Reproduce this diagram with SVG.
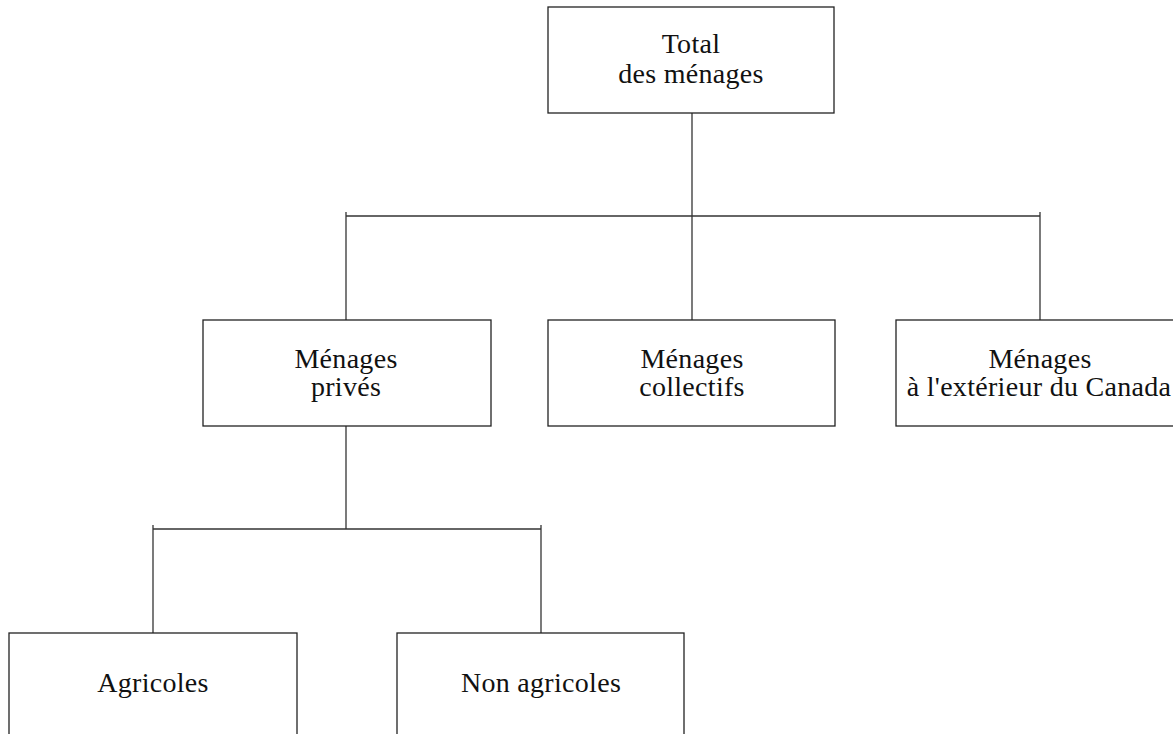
<svg xmlns="http://www.w3.org/2000/svg" width="1173" height="734" viewBox="0 0 1173 734">
<style>
.box{fill:#fff;stroke:#222;stroke-width:1.3}
.lbl{font-family:"Liberation Serif","Times New Roman",serif;font-size:28px;letter-spacing:0.3px;fill:#111;text-anchor:middle}
.con{stroke:#333;stroke-width:1.3;fill:none}
</style>
<rect width="1173" height="734" fill="#fff"/>
<g id="connectors">
<line class="con" x1="692" y1="113" x2="692" y2="216"/>
<line class="con" x1="346" y1="216" x2="1040" y2="216"/>
<line class="con" x1="346" y1="212" x2="346" y2="320"/>
<line class="con" x1="692" y1="216" x2="692" y2="320"/>
<line class="con" x1="1040" y1="212" x2="1040" y2="320"/>
<line class="con" x1="346" y1="426" x2="346" y2="529"/>
<line class="con" x1="153" y1="529" x2="541" y2="529"/>
<line class="con" x1="153" y1="525" x2="153" y2="633"/>
<line class="con" x1="541" y1="525" x2="541" y2="633"/>
</g>
<g id="total">
<rect class="box" x="548" y="7" width="286" height="106"/>
<text class="lbl" x="691" y="53">Total</text>
<text class="lbl" x="691" y="83">des ménages</text>
</g>
<g id="prives">
<rect class="box" x="203" y="320" width="288" height="106"/>
<text class="lbl" x="346" y="368">Ménages</text>
<text class="lbl" x="346" y="396">privés</text>
</g>
<g id="collectifs">
<rect class="box" x="548" y="320" width="287" height="106"/>
<text class="lbl" x="692" y="368">Ménages</text>
<text class="lbl" x="692" y="396">collectifs</text>
</g>
<g id="exterieur">
<rect class="box" x="896" y="320" width="288" height="106"/>
<text class="lbl" x="1040" y="368">Ménages</text>
<text class="lbl" x="1039" y="396">à l'extérieur du Canada</text>
</g>
<g id="agricoles">
<rect class="box" x="9" y="633" width="288" height="110"/>
<text class="lbl" x="153" y="692">Agricoles</text>
</g>
<g id="nonagricoles">
<rect class="box" x="397" y="633" width="287" height="110"/>
<text class="lbl" x="541" y="692">Non agricoles</text>
</g>
</svg>
